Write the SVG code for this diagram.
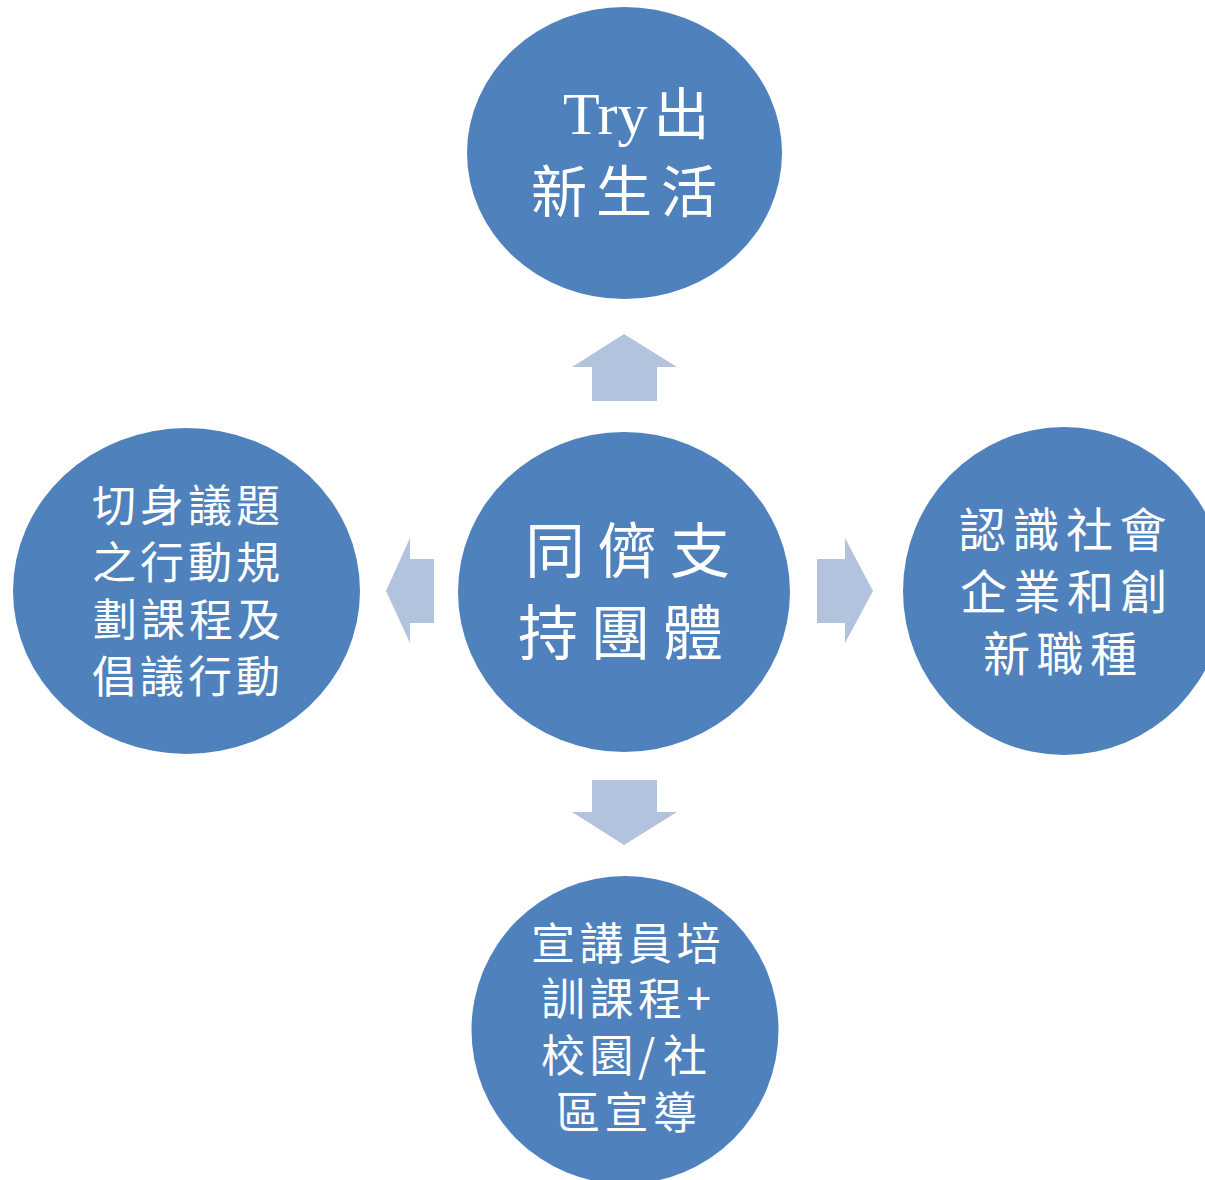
<svg xmlns="http://www.w3.org/2000/svg" width="1205" height="1180" viewBox="0 0 1205 1180">
<defs>
<style>
.node{fill:#4F81BD;}
.arrow{fill:#B3C3DE;}
.t{fill:#FFFFFF;font-family:"Noto Sans CJK TC","Noto Sans CJK SC",sans-serif;}
.lat{font-family:"Liberation Serif","Times New Roman",serif;}
</style>
</defs>
<rect x="0" y="0" width="1205" height="1180" fill="#FFFFFF"/>
<g id="connectors">
<polygon class="arrow" points="624,334 677,367 657,367 657,401 592,401 592,367 572,367"/>
<polygon class="arrow" points="592,780 657,780 657,812 677,812 624,845 572,812 592,812"/>
<polygon class="arrow" points="386,591 410,538 410,559 434,559 434,623 410,623 410,643"/>
<polygon class="arrow" points="817,559 845,559 845,538 873,591 845,643 845,623 817,623"/>
</g>
<g id="node-top">
<ellipse class="node" cx="624.5" cy="153" rx="157.5" ry="146"/>
<text class="t" font-size="56"><tspan class="lat" x="563" y="134" font-size="60">Try</tspan><tspan dx="6">出</tspan><tspan x="531" y="212" letter-spacing="9">新生活</tspan></text>
</g>
<g id="node-center">
<ellipse class="node" cx="624" cy="592" rx="166" ry="160"/>
<text class="t" font-size="60" letter-spacing="12.5"><tspan x="525" y="573">同儕支</tspan><tspan x="518" y="655">持團體</tspan></text>
</g>
<g id="node-right">
<ellipse class="node" cx="1064" cy="591" rx="161" ry="164"/>
<text class="t" font-size="47" letter-spacing="6.5"><tspan x="959" y="547">認識社會</tspan><tspan x="960" y="609">企業和創</tspan><tspan x="983" y="671">新職種</tspan></text>
</g>
<g id="node-left">
<ellipse class="node" cx="186.5" cy="591" rx="173.5" ry="163"/>
<text class="t" font-size="44" letter-spacing="4"><tspan x="92" y="522">切身議題</tspan><tspan x="92" y="579">之行動規</tspan><tspan x="93" y="636">劃課程及</tspan><tspan x="92" y="693">倡議行動</tspan></text>
</g>
<g id="node-bottom">
<ellipse class="node" cx="625" cy="1030" rx="153.5" ry="154"/>
<text class="t" font-size="44" letter-spacing="4.5"><tspan x="531" y="960">宣講員培</tspan><tspan x="541" y="1015">訓課程+</tspan><tspan x="541" y="1072">校園</tspan><tspan x="638" y="1072" letter-spacing="0">/</tspan><tspan x="663" y="1072">社</tspan><tspan x="556" y="1129">區宣導</tspan></text>
</g>
</svg>
